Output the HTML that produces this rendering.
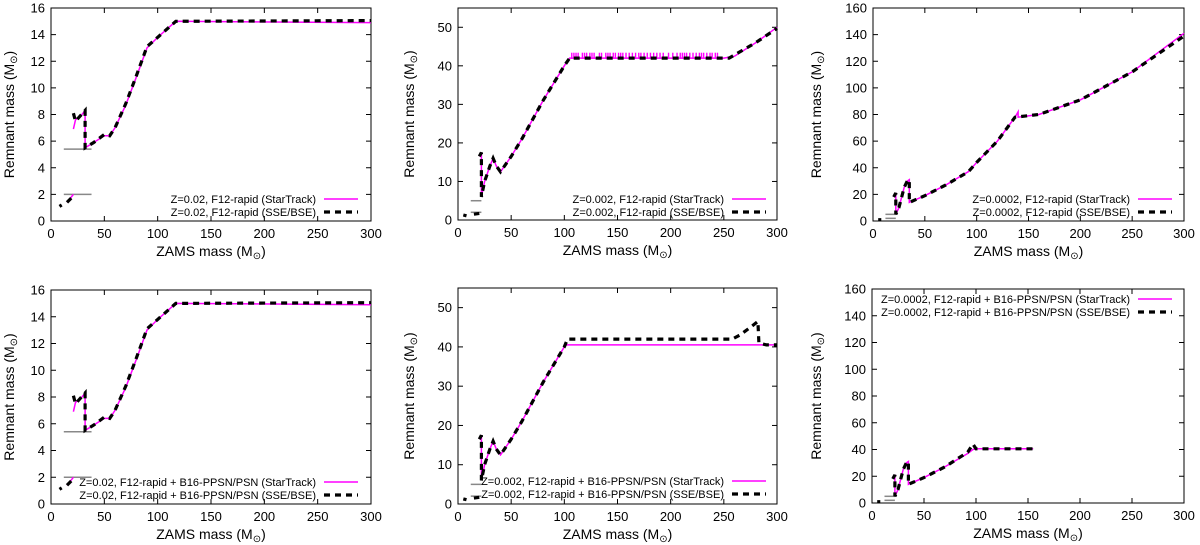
<!DOCTYPE html>
<html><head><meta charset="utf-8">
<style>
body{margin:0;background:#fff;}
svg{display:block;font-family:"Liberation Sans",sans-serif;}
</style></head>
<body>
<svg id="fig" width="1200" height="545" viewBox="0 0 1200 545" xmlns="http://www.w3.org/2000/svg"></svg>
<script>
// ---------- data ----------
const p1StX = [15,21,null,21,23,28,32,32,40,50,55,60,70,80,90,100,117,300];
const p1StY = [1.4,2.0,null,6.9,7.6,7.9,8.3,5.5,5.9,6.4,6.4,7.0,8.7,10.8,13.0,13.8,15.0,14.9];
const p1BseX = [8,10,null,15,20,null,21,23,32,32,40,50,55,60,70,80,90,100,117,300];
const p1BseY = [1.1,1.2,null,1.4,1.8,null,8.1,7.5,8.3,5.5,5.9,6.5,6.4,7.0,8.8,10.9,13.1,13.8,15.0,15.05];
const p1Grey = [[12,38,5.4],[12,38,2.0]];
const p2StX = [20,22,22,25,30,33,36,40,50,60,80,100,105,250,260,280,300];
const p2StY = [16.5,17.5,6,10,14,16,14,12.5,16.5,21,31,40,42,42,42.5,46,50];
const p2BseX = [5,8,null,15,20,null,20,22,22,25,30,33,36,40,50,60,80,100,105,255,280,300];
const p2BseY = [1.3,1.1,null,1.5,1.7,null,16.5,17.5,6,10,14,16,14,12.5,16.5,21,31,40,42,42,46,49.7];
const p2Spikes = [107,109,111,113,117,119,121,124,126,128,133,135,139,141,143,146,148,151,153,155,158,161,164,167,170,172,175,178,181,184,187,190,193,198,202,206,209,211,213,215,218,221,224,227,229,231,234,237,239,242,244];
const p2Grey = [[12,22,5.0],[12,22,2.0]];
const p3StX = [20,22,22,25,30,33,35,35,50,70,92,100,120,137,140,140,160,200,250,300];
const p3StY = [18,20,5,10,25,30,31,14,19,27,37,44,60,78,82,78,80,91,112,141];
const p3BseX = [5,8,null,20,22,22,25,30,33,35,35,50,70,92,100,120,137,160,200,250,300];
const p3BseY = [1,1,null,18,21,5,10,25,30,31,14,19,27,37,44,60,78,80,91,112,139];
const p3Grey = [[12,22,5.0],[12,22,2.0]];
const p5StX = [20,22,22,25,30,33,36,40,50,60,80,100,102,300];
const p5StY = [16.5,17.5,6,10,14,16,14,12.5,16.5,21,31,40,40.5,40.5];
const p5BseX = [5,8,null,15,20,null,20,22,22,25,30,33,36,40,50,60,80,100,103,258,265,275,282,283,290,300];
const p5BseY = [1.3,1.1,null,1.5,1.7,null,16.5,17.5,6,10,14,16,14,12.5,16.5,21,31,40,42,42,43,45,46.5,41,40.5,40.5];
const p6StX = [20,22,22,25,30,33,35,35,50,70,92,97,100,155];
const p6StY = [18,20,5,10,25,30,31,14,19,27,37,40,40.5,40.5];
const p6BseX = [5,8,null,20,22,22,25,30,33,35,35,50,70,92,97,100,155];
const p6BseY = [1,1,null,18,21,5,10,25,30,31,14,19,27,38,44,40.5,40.5];
const xTicks = [0,50,100,150,200,250,300];
const yTicks16 = [0,2,4,6,8,10,12,14,16];
const yTicks55 = [0,10,20,30,40,50];
const yTicks160 = [0,20,40,60,80,100,120,140,160];

const NS='http://www.w3.org/2000/svg';
const svg=document.getElementById('fig');
function mk(tag,attrs,parent){const e=document.createElementNS(NS,tag);for(const k in attrs)e.setAttribute(k,attrs[k]);(parent||svg).appendChild(e);return e;}

function panel(cfg){
  const g=mk('g',{});
  
  
  const sx=v=>cfg.x0+(v/300)*(cfg.x1-cfg.x0);
  const sy=v=>cfg.yb-(v/cfg.ymax)*(cfg.yb-cfg.yt);
  const fr=mk('rect',{x:cfg.x0,y:cfg.yt,width:cfg.x1-cfg.x0,height:cfg.yb-cfg.yt,fill:'none',stroke:'#000','stroke-width':1},g);
  
  
  xTicks.forEach(t=>{const x=sx(t);
    mk('line',{x1:x,x2:x,y1:cfg.yb,y2:cfg.yb-5,stroke:'#000'},g);
    mk('line',{x1:x,x2:x,y1:cfg.yt,y2:cfg.yt+5,stroke:'#000'},g);
    const tx=mk('text',{x:x,y:cfg.yb+17,'font-size':13,'text-anchor':'middle'},g);tx.textContent=t;
    
    
  });
  cfg.yTicks.forEach(t=>{const y=sy(t);
    mk('line',{x1:cfg.x0,x2:cfg.x0+5,y1:y,y2:y,stroke:'#000'},g);
    mk('line',{x1:cfg.x1,x2:cfg.x1-5,y1:y,y2:y,stroke:'#000'},g);
    const tx=mk('text',{x:cfg.x0-6,y:y+4.5,'font-size':13,'text-anchor':'end'},g);tx.textContent=t;
    
    
  });
  const xl=mk('text',{x:(cfg.x0+cfg.x1)/2,y:cfg.yb+35,'font-size':14,'text-anchor':'middle'},g);
  xl.innerHTML='ZAMS mass (M<tspan font-size="10" dy="3">⊙</tspan><tspan dy="-3">)</tspan>';
  
  
  const cy=(cfg.yt+cfg.yb)/2;
  const yl=mk('text',{x:cfg.ylx,y:cy,'font-size':14,'text-anchor':'middle',transform:`rotate(-90 ${cfg.ylx} ${cy})`},g);
  yl.innerHTML='Remnant mass (M<tspan font-size="10" dy="3">⊙</tspan><tspan dy="-3">)</tspan>';
  
  
  (cfg.grey||[]).forEach(s=>{
    const l=mk('line',{x1:sx(s[0]),x2:sx(s[1]),y1:sy(s[2]),y2:sy(s[2]),stroke:'#888','stroke-width':1.5},g);
    
    
  });
  function pathOf(xs,ys){let d='',pen=false;
    for(let i=0;i<xs.length;i++){if(xs[i]===null){pen=false;continue;}
      d+=(pen?'L':'M')+sx(xs[i]).toFixed(1)+' '+sy(ys[i]).toFixed(1);pen=true;}
    return d;}
  const st=mk('path',{d:pathOf(cfg.stX,cfg.stY),fill:'none',stroke:'#ff00ff','stroke-width':1.5},g);
  
  
  (cfg.spikes||[]).forEach(v=>{
    const l=mk('line',{x1:sx(v),x2:sx(v),y1:sy(41.8),y2:sy(43.4),stroke:'#ff00ff','stroke-width':1.4},g);
    
    
  });
  const bse=mk('path',{d:pathOf(cfg.bseX,cfg.bseY),fill:'none',stroke:'#000','stroke-width':3.2,'stroke-dasharray':'6 5'},g);
  
  
  const lg=mk('g',{},g);
  
  
  const tr=cfg.legX, r1=cfg.legY;
  const t1=mk('text',{x:tr,y:r1+4,'font-size':11,'text-anchor':'end'},lg);t1.textContent=cfg.label+' (StarTrack)';
  
  
  mk('line',{x1:tr+8,x2:tr+42,y1:r1,y2:r1,stroke:'#ff00ff','stroke-width':1.5},lg);
  const t2=mk('text',{x:tr,y:r1+17,'font-size':11,'text-anchor':'end'},lg);t2.textContent=cfg.label+' (SSE/BSE)';
  
  
  mk('line',{x1:tr+8,x2:tr+42,y1:r1+13,y2:r1+13,stroke:'#000','stroke-width':3.2,'stroke-dasharray':'6 5'},lg);
}

panel({name:'panel-z002-f12',x0:51,x1:371,yt:8,yb:221,ymax:16,yTicks:yTicks16,ylx:14,stX:p1StX,stY:p1StY,bseX:p1BseX,bseY:p1BseY,grey:p1Grey,label:'Z=0.02, F12-rapid',legX:316,legY:199});
panel({name:'panel-z0002-f12',x0:458,x1:777,yt:8,yb:220,ymax:55,yTicks:yTicks55,ylx:414,stX:p2StX,stY:p2StY,bseX:p2BseX,bseY:p2BseY,grey:p2Grey,spikes:p2Spikes,label:'Z=0.002, F12-rapid',legX:724,legY:199});
panel({name:'panel-z00002-f12',x0:873,x1:1184,yt:8,yb:221,ymax:160,yTicks:yTicks160,ylx:821,stX:p3StX,stY:p3StY,bseX:p3BseX,bseY:p3BseY,grey:p3Grey,label:'Z=0.0002, F12-rapid',legX:1130,legY:199});
panel({name:'panel-z002-f12-ppsn',x0:51,x1:371,yt:290,yb:504,ymax:16,yTicks:yTicks16,ylx:14,stX:p1StX,stY:p1StY,bseX:p1BseX,bseY:p1BseY,grey:p1Grey,label:'Z=0.02, F12-rapid + B16-PPSN/PSN',legX:316,legY:482});
panel({name:'panel-z0002-f12-ppsn',x0:458,x1:777,yt:288,yb:504,ymax:55,yTicks:yTicks55,ylx:414,stX:p5StX,stY:p5StY,bseX:p5BseX,bseY:p5BseY,grey:p2Grey,label:'Z=0.002, F12-rapid + B16-PPSN/PSN',legX:724,legY:481});
panel({name:'panel-z00002-f12-ppsn',x0:872,x1:1184,yt:289,yb:503,ymax:160,yTicks:yTicks160,ylx:821,stX:p6StX,stY:p6StY,bseX:p6BseX,bseY:p6BseY,grey:p3Grey,label:'Z=0.0002, F12-rapid + B16-PPSN/PSN',legX:1130,legY:299});
</script>
</body></html>
